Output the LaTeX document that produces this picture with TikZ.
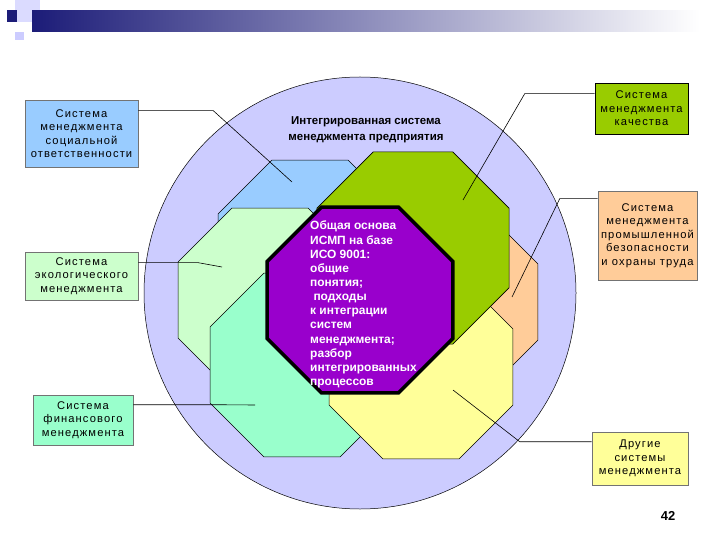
\documentclass[tikz,border=0pt]{standalone}
\usepackage{fontspec}
\setmainfont{Liberation Sans}
\newfontfamily\boxfont[LetterSpace=10]{Liberation Sans}
\usetikzlibrary{%
	shapes.geometric,% wg. regular polygon
	positioning,%
	calc%
}
\definecolor{disc}{HTML}{CCCCFF}
\definecolor{socblue}{HTML}{99CCFF}
\definecolor{ecogreen}{HTML}{CCFFCC}
\definecolor{finmint}{HTML}{99FFCC}
\definecolor{qualgreen}{HTML}{99CC00}
\definecolor{safeorange}{HTML}{FFCC99}
\definecolor{othyellow}{HTML}{FFFF99}
\definecolor{corepurple}{HTML}{9900CC}
\definecolor{barnavy}{HTML}{1C1C78}
\tikzstyle{octa}=[regular polygon, regular polygon sides=8, draw=black, line width=0.6pt, inner sep=0pt, outer sep=0pt, minimum size=199bp]
\tikzstyle{sysbox}=[draw=black!55, line width=0.6pt, align=center, inner sep=0pt, font=\boxfont\fontsize{11.2}{13.5}\selectfont]
\tikzstyle{leader}=[draw, line width=0.6pt]

\begin{document}
\begin{tikzpicture}[x=1bp,y=-1bp]
		\useasboundingbox (0,0) rectangle (720,540);
		
		% Corner decoration of the slide
		\fill[disc!70] (15,0) rectangle (40,22);
		\fill[barnavy] (7,10) rectangle (17,22);
		\fill[disc] (15,32) rectangle (24,40);
		\shade[left color=barnavy, middle color=black!30!disc, right color=white] (32,11) rectangle (700,32);
		
		% The big disc
		\node[circle, draw=black, line width=0.5pt, fill=disc, inner sep=0pt, minimum size=432bp] (disc) at (360,293) {};
		
		% First we draw the octagons, back to front
		\foreach \pos/\name/\col in {{(310,252)/blueoct/socblue}, {(446,302)/orangeoct/safeorange}, {(270,300)/paleoct/ecogreen}, {(302,365)/mintoct/finmint}, {(421,367)/yellowoct/othyellow}}
		\node[octa, fill=\col] (\name) at \pos {};
		\node[octa, fill=qualgreen, minimum size=208bp] (greenoct) at (413,248) {};
		
		% Core octagon with its text
		\node[octa, fill=corepurple, line width=3.5pt, minimum size=201bp] (core) at (360,300) {};
		\node[text=white, font=\bfseries\fontsize{12}{14.2}\selectfont, align=left, anchor=north west, inner sep=0pt] (coretext) at (310,221) {Общая основа\\ИСМП на базе\\ИСО 9001:\\общие\\понятия;\\\ подходы\\к интеграции\\систем\\менеджмента;\\разбор\\интегрированных\\процессов};
		
		\node[font=\bfseries\fontsize{11.5}{16}\selectfont, align=center] (title) at (366,130) {Интегрированная система\\менеджмента предприятия};
		
		% Then the system boxes
		\node[sysbox, fill=socblue, minimum width=113bp, minimum height=67bp] (soc) at (81.5,133.5) {Система\\менеджмента\\социальной\\ответственности};
		\node[sysbox, fill=ecogreen, minimum width=113bp, minimum height=48bp] (eco) at (81.5,276) {Система\\экологического\\менеджмента};
		\node[sysbox, fill=finmint, minimum width=100bp, minimum height=50bp] (fin) at (83,420) {Система\\финансового\\менеджмента};
		\node[sysbox, fill=qualgreen, draw=black, minimum width=93bp, minimum height=51bp] (qual) at (641.5,108.5) {Система\\менеджмента\\качества};
		\node[sysbox, fill=safeorange, minimum width=99bp, minimum height=89bp] (safe) at (647.5,235.5) {Система\\менеджмента\\промышленной\\безопасности\\и охраны труда};
		\node[sysbox, fill=othyellow, minimum width=96bp, minimum height=53bp] (oth) at (640,458.5) {Другие\\системы\\менеджмента};
		
		% Leader ends inside the octagons
		\coordinate (socEnd) at (292,182);
		\coordinate (ecoEnd) at (222,267);
		\coordinate (finEnd) at (255,405);
		\coordinate (qualEnd) at (463,200);
		\coordinate (safeEnd) at (512,297);
		\coordinate (othEnd) at (453,390);
		
		% Connect boxes with the octagons
		\foreach \src/\corner/\dy/\stub/\dest in {
			soc/north east/11/75/socEnd,
			eco/north east/11/60/ecoEnd,
			fin/north east/10/80/finEnd,
			qual/north west/11/-70/qualEnd,
			safe/north west/8/-38/safeEnd,
			oth/north west/10/-72/othEnd}
		\path[leader] (\src.\corner) ++(0,\dy) -- ++(\stub,0) -- (\dest);
		
		\node[font=\bfseries\fontsize{13}{15}\selectfont] (pagenum) at (668,516) {42};
		
\end{tikzpicture}
\end{document}
